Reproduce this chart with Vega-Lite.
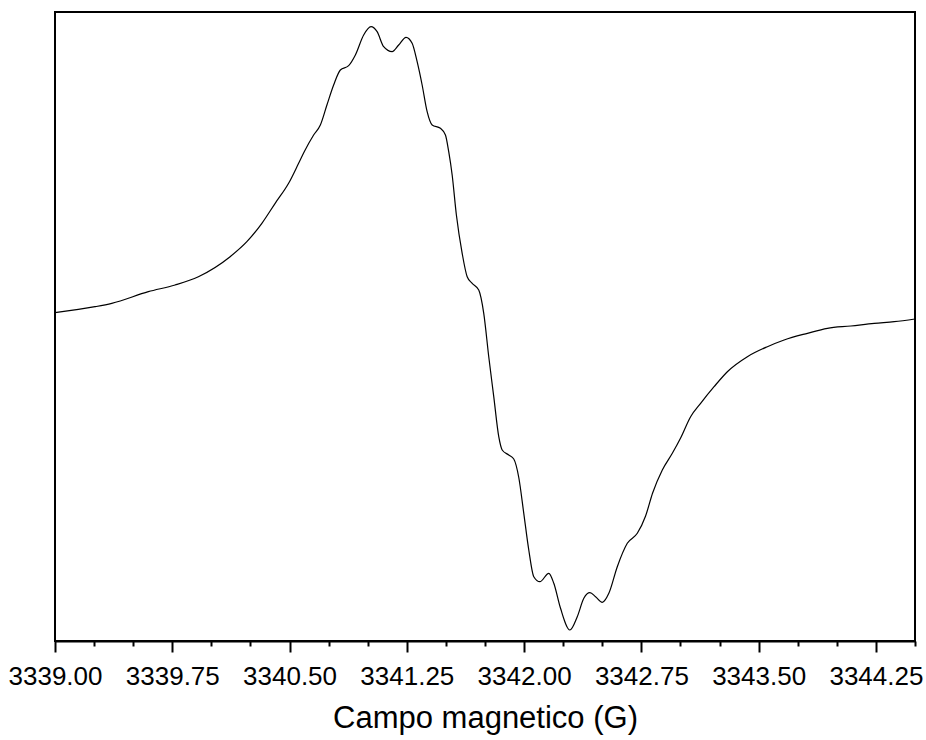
{
  "$schema": "https://vega.github.io/schema/vega-lite/v6.json",
  "autosize": {"type": "none"},
  "width": 860,
  "height": 629,
  "padding": {"left": 55, "top": 12, "right": 11, "bottom": 99},
  "background": "white",
  "config": {
    "view": {"stroke": "black", "strokeWidth": 2},
    "font": "Liberation Sans"
  },
  "data": {
    "values": [
      {"B": 3339.000, "I": 7.3},
      {"B": 3339.256, "I": 13.3},
      {"B": 3339.363, "I": 16.7},
      {"B": 3339.597, "I": 28.3},
      {"B": 3339.768, "I": 35.0},
      {"B": 3339.917, "I": 43.3},
      {"B": 3340.120, "I": 63.3},
      {"B": 3340.227, "I": 78.3},
      {"B": 3340.323, "I": 96.7},
      {"B": 3340.408, "I": 116.7},
      {"B": 3340.494, "I": 136.7},
      {"B": 3340.558, "I": 156.7},
      {"B": 3340.594, "I": 168.3},
      {"B": 3340.654, "I": 185.0},
      {"B": 3340.697, "I": 195.0},
      {"B": 3340.739, "I": 215.0},
      {"B": 3340.782, "I": 235.0},
      {"B": 3340.825, "I": 250.0},
      {"B": 3340.878, "I": 254.3},
      {"B": 3340.921, "I": 265.0},
      {"B": 3340.974, "I": 285.0},
      {"B": 3341.021, "I": 293.3},
      {"B": 3341.060, "I": 288.3},
      {"B": 3341.102, "I": 273.3},
      {"B": 3341.156, "I": 268.3},
      {"B": 3341.198, "I": 275.0},
      {"B": 3341.245, "I": 282.7},
      {"B": 3341.284, "I": 276.7},
      {"B": 3341.316, "I": 258.3},
      {"B": 3341.348, "I": 235.0},
      {"B": 3341.380, "I": 208.3},
      {"B": 3341.412, "I": 195.0},
      {"B": 3341.465, "I": 191.7},
      {"B": 3341.497, "I": 185.0},
      {"B": 3341.518, "I": 168.3},
      {"B": 3341.540, "I": 145.0},
      {"B": 3341.567, "I": 105.0},
      {"B": 3341.604, "I": 66.7},
      {"B": 3341.636, "I": 43.3},
      {"B": 3341.668, "I": 36.7},
      {"B": 3341.710, "I": 30.0},
      {"B": 3341.742, "I": 6.7},
      {"B": 3341.774, "I": -36.7},
      {"B": 3341.806, "I": -76.7},
      {"B": 3341.838, "I": -116.7},
      {"B": 3341.860, "I": -130.0},
      {"B": 3341.902, "I": -135.0},
      {"B": 3341.934, "I": -139.0},
      {"B": 3341.966, "I": -157.5},
      {"B": 3341.998, "I": -193.3},
      {"B": 3342.030, "I": -230.0},
      {"B": 3342.062, "I": -256.7},
      {"B": 3342.101, "I": -261.7},
      {"B": 3342.158, "I": -253.3},
      {"B": 3342.190, "I": -263.3},
      {"B": 3342.233, "I": -288.3},
      {"B": 3342.293, "I": -310.0},
      {"B": 3342.340, "I": -296.7},
      {"B": 3342.382, "I": -278.3},
      {"B": 3342.421, "I": -272.7},
      {"B": 3342.457, "I": -276.7},
      {"B": 3342.500, "I": -282.3},
      {"B": 3342.542, "I": -273.3},
      {"B": 3342.596, "I": -246.7},
      {"B": 3342.660, "I": -223.3},
      {"B": 3342.724, "I": -213.3},
      {"B": 3342.777, "I": -196.0},
      {"B": 3342.822, "I": -173.0},
      {"B": 3342.884, "I": -150.0},
      {"B": 3342.948, "I": -133.3},
      {"B": 3343.001, "I": -118.0},
      {"B": 3343.065, "I": -96.7},
      {"B": 3343.129, "I": -83.3},
      {"B": 3343.215, "I": -66.7},
      {"B": 3343.300, "I": -51.7},
      {"B": 3343.428, "I": -36.7},
      {"B": 3343.556, "I": -26.7},
      {"B": 3343.663, "I": -20.0},
      {"B": 3343.812, "I": -13.3},
      {"B": 3343.940, "I": -8.3},
      {"B": 3344.090, "I": -6.0},
      {"B": 3344.239, "I": -3.3},
      {"B": 3344.367, "I": -1.7},
      {"B": 3344.500, "I": 1.0}
    ]
  },
  "layer": [
    {
      "mark": {"type": "line", "color": "black", "strokeWidth": 1.2, "interpolate": "monotone"},
      "encoding": {
        "x": {
          "field": "B", "type": "quantitative",
          "scale": {"domain": [3339, 3344.5], "nice": false, "zero": false},
          "axis": {
            "title": "Campo magnetico (G)",
            "titleFont": "Liberation Sans",
            "titleFontSize": 31,
            "titleFontWeight": "normal",
            "titleColor": "black",
            "titlePadding": 14,
            "values": [3339, 3339.25, 3339.5, 3339.75, 3340, 3340.25, 3340.5, 3340.75, 3341, 3341.25, 3341.5, 3341.75, 3342, 3342.25, 3342.5, 3342.75, 3343, 3343.25, 3343.5, 3343.75, 3344, 3344.25, 3344.5],
            "labelExpr": "round((datum.value - 3339) * 4) % 3 == 0 ? format(datum.value, '.2f') : ''",
            "labelFont": "Liberation Sans",
            "labelFontSize": 26,
            "labelColor": "black",
            "labelPadding": 11,
            "labelBound": false,
            "labelFlush": false,
            "labelOverlap": false,
            "grid": false,
            "domainColor": "black",
            "domainWidth": 2,
            "tickColor": "black",
            "tickWidth": 2,
            "tickSize": {"condition": {"test": "round((datum.value - 3339) * 4) % 3 == 0", "value": 11}, "value": 5}
          }
        },
        "y": {
          "field": "I", "type": "quantitative",
          "scale": {"domain": [-321, 308], "nice": false, "zero": false},
          "axis": null
        }
      }
    }
  ]
}
